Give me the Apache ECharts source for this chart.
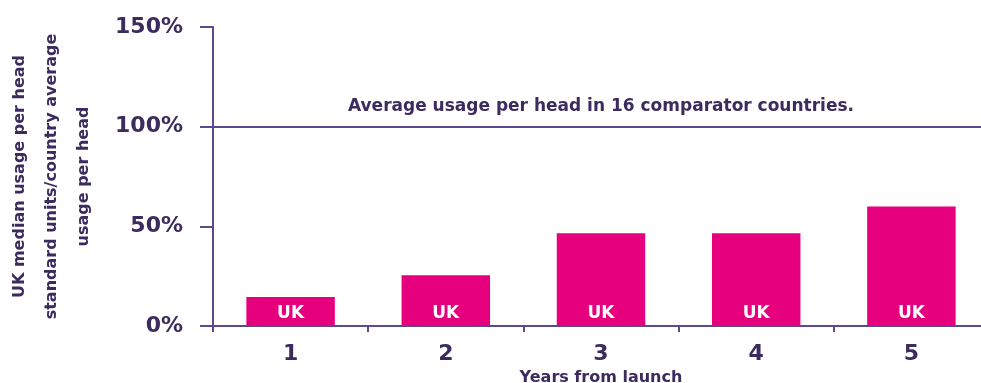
<!DOCTYPE html>
<html>
<head>
<meta charset="utf-8">
<script src="https://cdn.jsdelivr.net/npm/echarts@6/dist/echarts.min.js"></script>
<style>
  html, body { margin: 0; padding: 0; background: #fff; }
  #chart { width: 981px; height: 383px; }
</style>
</head>
<body>
<div id="chart"></div>
<script>
// values (% of comparator average)
var years = ['1', '2', '3', '4', '5'];
var ukUsage = [14.5, 25.5, 46.5, 46.5, 60];
var comparatorAvg = 100;
var yTicks = [0, 50, 100, 150];

var textColor = '#3b2b5e';
var lineColor = '#5b4a8e';
var barColor = '#e6007e';
var font = 'DejaVu Sans';

var chart = echarts.init(document.getElementById('chart'));

chart.setOption({
  animation: false,
  grid: { left: 213, right: -8, top: 27, bottom: 57, containLabel: false, outerBoundsMode: 'none' },
  xAxis: {
    type: 'category',
    data: years,
    name: 'Years from launch',
    nameLocation: 'middle',
    nameGap: 40,
    nameTextStyle: { color: textColor, fontFamily: font, fontWeight: 'bold', fontSize: 16 },
    axisLine: { lineStyle: { color: lineColor, width: 2 } },
    axisTick: { show: true, length: 6, lineStyle: { color: lineColor, width: 2 } },
    axisLabel: { color: textColor, fontFamily: font, fontWeight: 'bold', fontSize: 22, margin: 17 }
  },
  yAxis: {
    type: 'value',
    min: yTicks[0],
    max: yTicks[yTicks.length - 1],
    interval: 50,
    name: 'UK median usage per head\nstandard units/country average\nusage per head',
    nameLocation: 'middle',
    nameRotate: 90,
    nameGap: 113,
    nameTextStyle: { color: textColor, fontFamily: font, fontWeight: 'bold', fontSize: 16, lineHeight: 32, align: 'center' },
    splitLine: { show: false },
    axisLine: { show: true, lineStyle: { color: lineColor, width: 2 } },
    axisTick: { show: true, length: 13, lineStyle: { color: lineColor, width: 2 } },
    axisLabel: {
      color: textColor, fontFamily: font, fontWeight: 'bold', fontSize: 22, margin: 30,
      formatter: function (v) { return v + '%'; }
    }
  },
  series: [{
    type: 'bar',
    data: ukUsage,
    barWidth: '57%',
    itemStyle: { color: barColor },
    label: {
      show: true,
      position: 'insideBottom',
      distance: 4,
      formatter: 'UK',
      color: '#fff',
      fontFamily: font,
      fontWeight: 'bold',
      fontSize: 17
    },
    markLine: {
      symbol: 'none',
      silent: true,
      lineStyle: { color: lineColor, width: 2, type: 'solid' },
      label: {
        position: 'insideMiddleTop',
        distance: 12,
        formatter: 'Average usage per head in 16 comparator countries.',
        color: textColor,
        fontFamily: font,
        fontWeight: 'bold',
        fontSize: 17
      },
      data: [{ yAxis: comparatorAvg }]
    }
  }]
});
</script>
</body>
</html>
